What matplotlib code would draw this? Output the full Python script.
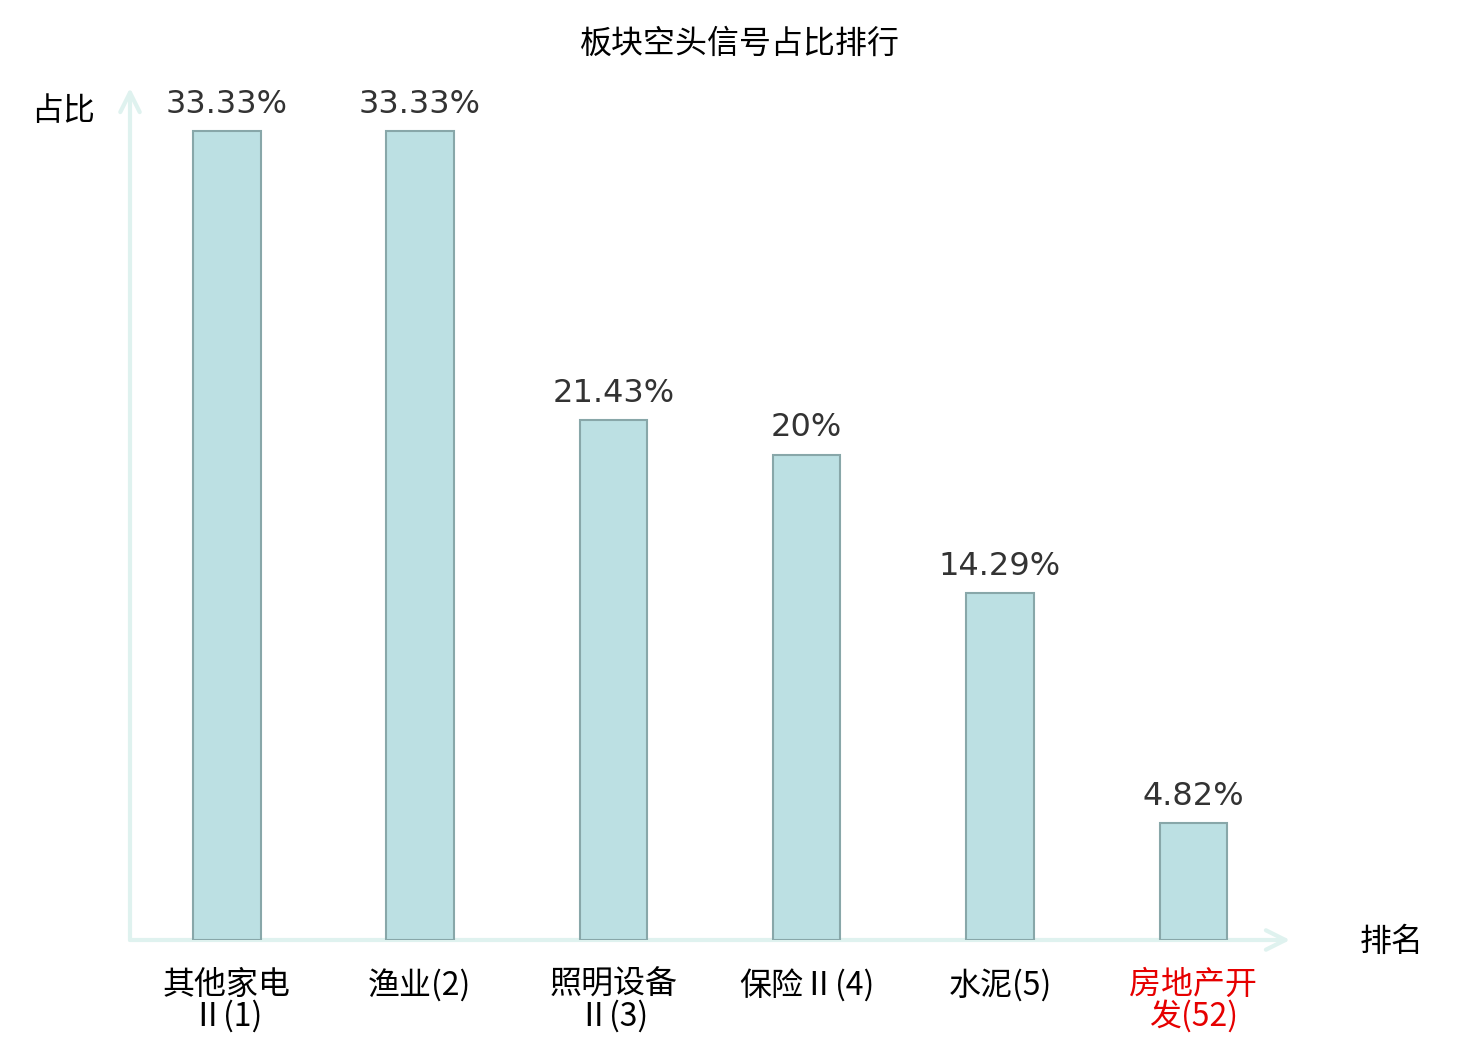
import matplotlib
matplotlib.use('Agg')
import matplotlib.pyplot as plt

plt.rcParams['font.family'] = ['Noto Sans CJK SC', 'DejaVu Sans']

# data
categories = ['其他家电\nⅡ(1)', '渔业(2)', '照明设备\nⅡ(3)', '保险Ⅱ(4)', '水泥(5)', '房地产开\n发(52)']
values = [33.33, 33.33, 21.43, 20, 14.29, 4.82]
value_labels = ['33.33%', '33.33%', '21.43%', '20%', '14.29%', '4.82%']
highlight = 5  # the sector shown in red

AXIS_C = '#dff2ef'
BAR_C = '#bce0e3'
EDGE_C = '#88a7a9'

fig = plt.figure(figsize=(14.8, 10.4), dpi=100)
ax = fig.add_axes([130 / 1480, 100 / 1040, 1160 / 1480, 852 / 1040])

x = list(range(len(values)))
ax.bar(x, values, width=0.35, color=BAR_C, edgecolor=EDGE_C, linewidth=1.5, zorder=3)

for xi, v, lab in zip(x, values, value_labels):
    ax.annotate(lab, (xi, v), xytext=(0, 8), textcoords='offset points',
                ha='center', va='bottom', fontsize=23, color='#333333',
                family='DejaVu Sans')

ax.set_xlim(-0.5, 5.5)
ax.set_ylim(0, 35.1)
for s in ax.spines.values():
    s.set_visible(False)
ax.set_yticks([])
ax.set_xticks(x)
ax.set_xticklabels(categories, fontsize=23, linespacing=0.95)
ax.tick_params(axis='x', length=0, pad=21)
ax.get_xticklabels()[highlight].set_color('#e60000')

# axis arrows
ax.annotate('', xy=(5.5, 0), xytext=(-0.5, 0), xycoords='data',
            arrowprops=dict(arrowstyle='->', color=AXIS_C, lw=3,
                            mutation_scale=35, shrinkA=0, shrinkB=0),
            annotation_clip=False, zorder=1)
ax.annotate('', xy=(-0.5, 35.1), xytext=(-0.5, 0), xycoords='data',
            arrowprops=dict(arrowstyle='->', color=AXIS_C, lw=3,
                            mutation_scale=35, shrinkA=0, shrinkB=0),
            annotation_clip=False, zorder=1)

fig.text(63 / 1480, 1 - 111 / 1040, '占比', fontsize=23, ha='center', va='center')
fig.text(1392 / 1480, 1 - 942 / 1040, '排名', fontsize=23, ha='center', va='center')
fig.text(740 / 1480, 1 - 44 / 1040, '板块空头信号占比排行', fontsize=23,
         ha='center', va='center')

fig.savefig('out.png', dpi=100)
